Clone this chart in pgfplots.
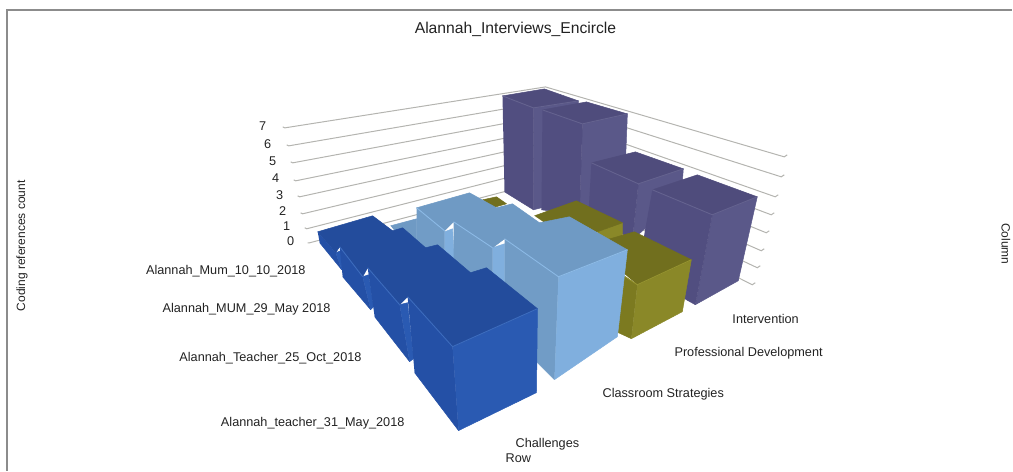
\documentclass[border=0pt]{standalone}
\usepackage{pgfplots}
\pgfplotsset{compat=1.18}
\usepackage{fontspec}
\setmainfont{Liberation Sans}
\definecolor{framec}{HTML}{8C8C8C}
\definecolor{gridc}{HTML}{B4B4B0}
\definecolor{txt}{HTML}{222222}
% purple
\definecolor{ptop}{HTML}{4F4C7C}
\definecolor{pleft}{HTML}{514E80}
\definecolor{pright}{HTML}{5A5889}
\definecolor{pedge}{HTML}{64628F}
% olive
\definecolor{otop}{HTML}{716F1E}
\definecolor{oleft}{HTML}{7C7A20}
\definecolor{oright}{HTML}{8A8828}
\definecolor{oedge}{HTML}{95932F}
% light blue
\definecolor{ltop}{HTML}{6F9AC4}
\definecolor{lleft}{HTML}{719CC6}
\definecolor{lright}{HTML}{80AFDE}
\definecolor{ledge}{HTML}{8CBAE6}
% dark blue
\definecolor{btop}{HTML}{234C9C}
\definecolor{bleft}{HTML}{2450A6}
\definecolor{bright}{HTML}{2A5AB2}
\definecolor{bedge}{HTML}{3C6CBE}
\tikzset{
    face/.style={fill=#1, draw=#1, line width=0.5pt, line join=round},
    edge/.style={draw=#1, line width=0.9pt},
    wall/.style={draw=gridc, line width=1pt},
    lab/.style={font=\fontsize{12.7}{14}\selectfont, text=txt, inner sep=0pt},
}
\begin{document}
\begin{tikzpicture}
\begin{axis}[
    scale only axis,
    width=1013pt, height=471pt,
    xmin=0, xmax=1013, ymin=0, ymax=471,
    y dir=reverse,
    hide axis,
    clip=false,
    every axis plot/.append style={no marks},
]
% keep the page as large as the whole axis
\path (axis cs:0,0) rectangle (axis cs:1013,471);
% frame
\addplot[framec, line width=2pt] coordinates {(7,471) (7,10) (1013,10)};

% wall lines, value 7 down to 0 (read in image pixels)
\addplot[wall] coordinates {(283,127) (285,128) (546,87) (785,157) (788,155)};
\addplot[wall] coordinates {(287,145) (289,146) (546,102) (782,177) (785,175)};
\addplot[wall] coordinates {(291,162) (293,163) (546,116) (776,197) (779,195)};
\addplot[wall] coordinates {(294,180) (296,181) (546,130) (772,215) (775,213)};
\addplot[wall] coordinates {(298,196) (300,197) (546,143) (767,233) (770,231)};
\addplot[wall] coordinates {(301,213) (303,214) (546,156) (762,251) (765,249)};
\addplot[wall] coordinates {(305,228) (307,229) (546,168) (758,268) (761,266)};
\addplot[wall] coordinates {(308,243) (310,243) (546,181) (753,285) (756,283)};

% purple row, back to front
\addplot[face=pright] coordinates {(534,108) (579,101) (578,200) (542,208) (534,210)};
\addplot[face=pleft] coordinates {(503,96) (534,108) (534,210) (505,192)};
\addplot[face=ptop] coordinates {(503,96) (545,89) (579,101) (534,108)};
\addplot[edge=pedge] coordinates {(503,96) (534,108) (579,101)};

\addplot[face=pright] coordinates {(583,124) (628,114) (625,190) (580,215)};
\addplot[face=pleft] coordinates {(543,110) (583,124) (580,215) (542,210)};
\addplot[face=ptop] coordinates {(543,110) (587,102) (628,114) (583,124)};
\addplot[edge=pedge] coordinates {(543,110) (583,124) (628,114)};

\addplot[face=pright] coordinates {(639,184) (684,169) (682,195) (650,225) (633,240)};
\addplot[face=pleft] coordinates {(592,163) (639,184) (633,240) (589,215)};
\addplot[face=ptop] coordinates {(592,163) (636,152) (684,169) (639,184)};
\addplot[edge=pedge] coordinates {(592,163) (639,184) (684,169)};

\addplot[face=pright] coordinates {(713,215) (758,197) (739,281) (696,305)};
\addplot[face=pleft] coordinates {(653,190) (713,215) (696,305) (687,300) (640,262)};
\addplot[face=ptop] coordinates {(653,190) (698,175) (758,197) (713,215)};
\addplot[edge=pedge] coordinates {(653,190) (713,215) (758,197)};

% olive row
\addplot[face=otop] coordinates {(483,200) (497,197) (507,204) (493,208)};

\addplot[face=oright] coordinates {(598,232) (623,223) (623,236) (598,245)};
\addplot[face=otop] coordinates {(535,216) (577,201) (623,223) (598,232) (570,240)};

\addplot[face=oleft] coordinates {(600,260) (638,285) (632,339) (619,333) (600,300)};
\addplot[face=oright] coordinates {(638,285) (692,260) (683,312) (632,339)};
\addplot[face=otop] coordinates {(590,245) (635,232) (692,260) (638,285)};
\addplot[edge=oedge] coordinates {(600,260) (638,285) (692,260)};

% light blue row
\addplot[face=ltop] coordinates {(391,226) (417,219) (417,245) (430,262) (410,250)};
\addplot[face=lleft] coordinates {(417,208) (445,231) (445,270) (417,250)};
\addplot[face=lright] coordinates {(445,232) (453,229) (455,262) (445,262)};
\addplot[face=lleft] coordinates {(454,222) (493,248) (493,290) (454,262)};
\addplot[face=lright] coordinates {(493,248) (505,244) (505,295) (493,285)};
\addplot[face=lleft] coordinates {(505,239) (559,277) (555,380) (538,363) (505,330)};
\addplot[face=lright] coordinates {(559,277) (628,250) (618,337) (555,380)};
\addplot[face=ltop] coordinates {(417,208) (470,193) (497,208) (513,204) (540,223) (570,217)
    (628,250) (559,277) (505,239) (493,248) (454,222) (445,231)};
\addplot[edge=ledge] coordinates {(417,208) (445,231)};
\addplot[edge=ledge] coordinates {(454,222) (493,248)};
\addplot[edge=ledge] coordinates {(505,239) (559,277) (628,250)};

% dark blue row
\addplot[face=bleft] coordinates {(318,232) (336,253) (342,270) (320,243)};
\addplot[face=bright] coordinates {(336,253) (341,251) (343,268) (342,270)};
\addplot[face=bleft] coordinates {(340,247) (363,277) (371,310) (343,277)};
\addplot[face=bright] coordinates {(363,277) (369,275) (374,307) (371,310)};
\addplot[face=bleft] coordinates {(368,268) (400,305) (410,362) (375,317)};
\addplot[face=bright] coordinates {(400,305) (408,303) (414,359) (410,362)};
\addplot[face=bleft] coordinates {(408,297) (453,347) (459,431) (415,373)};
\addplot[face=bright] coordinates {(453,347) (538,309) (537,393) (459,431)};
\addplot[face=btop] coordinates {(318,232) (373,216) (393,231) (403,228) (426,248) (438,245)
    (471,273) (487,268) (538,309) (453,347) (408,297) (400,305) (368,268) (363,277)
    (340,247) (336,253)};
\addplot[edge=bedge] coordinates {(340,247) (363,277)};
\addplot[edge=bedge] coordinates {(368,268) (400,305)};
\addplot[edge=bedge] coordinates {(408,297) (453,347) (538,309)};

% text
\node[lab, font=\fontsize{15.7}{18}\selectfont] at (axis cs:516,29) {Alannah\_Interviews\_Encircle};
\node[lab, rotate=90, font=\fontsize{12}{14}\selectfont] at (axis cs:22,246) {Coding references count};
\node[lab, rotate=-90, font=\fontsize{12}{14}\selectfont] at (axis cs:1007,244) {Column};
\node[lab, anchor=east] at (axis cs:306,271) {Alannah\_Mum\_10\_10\_2018};
\node[lab, anchor=east] at (axis cs:331,310) {Alannah\_MUM\_29\_May 2018};
\node[lab, anchor=east] at (axis cs:362,359) {Alannah\_Teacher\_25\_Oct\_2018};
\node[lab, anchor=east] at (axis cs:405,424) {Alannah\_teacher\_31\_May\_2018};
\node[lab, anchor=west] at (axis cs:516,445) {Challenges};
\node[lab, anchor=west] at (axis cs:506,459) {Row};
\node[lab, anchor=west] at (axis cs:603,395) {Classroom Strategies};
\node[lab, anchor=west] at (axis cs:675,354) {Professional Development};
\node[lab, anchor=west] at (axis cs:733,319) {Intervention};
\node[lab] at (axis cs:263,126) {7};
\node[lab] at (axis cs:268,144) {6};
\node[lab] at (axis cs:273,161) {5};
\node[lab] at (axis cs:276,178) {4};
\node[lab] at (axis cs:280,195) {3};
\node[lab] at (axis cs:283,211) {2};
\node[lab] at (axis cs:287,226) {1};
\node[lab] at (axis cs:291,241) {0};
\end{axis}
\end{tikzpicture}
\end{document}
